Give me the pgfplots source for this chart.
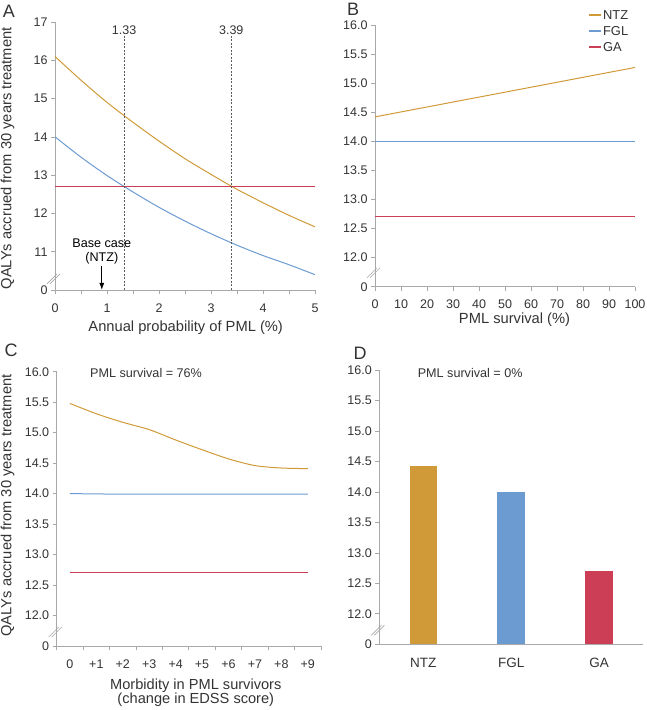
\documentclass[border=0pt]{standalone}
\usepackage{fontspec}
\setmainfont{Liberation Sans}
\usepackage{pgfplots}
\pgfplotsset{compat=1.18}
\usetikzlibrary{arrows.meta}
\definecolor{ntz}{HTML}{D09A38}
\definecolor{fgl}{HTML}{6C9BD2}
\definecolor{ga}{HTML}{CB3E56}
\definecolor{axisgray}{HTML}{A8A8A8}
\definecolor{txt}{HTML}{333333}

\pgfplotsset{
  panel/.style={
    scale only axis, anchor=south west,
    axis x line*=bottom, axis y line*=left,
    axis line style={axisgray, line width=0.7pt},
    every tick/.style={axisgray, line width=0.7pt},
    major tick length=4pt, minor tick length=4pt,
    tick align=outside,
    tick label style={font=\fontsize{12.5}{14}\selectfont, text=txt},
    xticklabel style={yshift=-6pt},
    /pgf/number format/assume math mode=true,
    clip mode=individual,
  },
}
\tikzset{brk/.style={axisgray, line width=0.6pt}}
\newcommand{\brk}[2]{%
  \draw[brk] ([xshift=-8pt,yshift=-5pt]axis cs:#1,#2) -- ++(10pt,10pt);
  \draw[brk] ([xshift=-5pt,yshift=-5pt]axis cs:#1,#2) -- ++(10pt,10pt);}

\begin{document}
\begin{tikzpicture}[x=1pt,y=1pt]
\useasboundingbox (0,0) rectangle (646,710);

% panel A
\begin{axis}[panel, at={(55pt,420pt)}, width=260pt, height=268pt,
  xmin=0, xmax=5, ymin=10, ymax=17,
  xtick={0,...,5}, minor xtick={0.5,1.5,...,4.5},
  ytick={10,11,...,17}, yticklabels={0,11,12,13,14,15,16,17}]
\addplot[ntz, line width=1pt, smooth] coordinates {
  (0,16.10) (0.5,15.48) (1,14.90) (1.5,14.38) (2,13.89) (2.5,13.43)
  (3,13.02) (3.5,12.63) (4,12.28) (4.5,11.95) (5,11.65)};
\addplot[fgl, line width=1pt, smooth] coordinates {
  (0,14.00) (0.5,13.47) (1,12.99) (1.5,12.56) (2,12.16) (2.5,11.80)
  (3,11.47) (3.5,11.17) (4,10.90) (4.5,10.66) (5,10.40)};
\addplot[ga, line width=1pt] coordinates {(0,12.70) (5,12.70)};
\addplot[txt!80, line width=0.6pt, dash pattern=on 2pt off 1.5pt] coordinates {(1.33,10) (1.33,16.66)};
\addplot[txt!80, line width=0.6pt, dash pattern=on 2pt off 1.5pt] coordinates {(3.39,10) (3.39,16.66)};
\node[font=\fontsize{12.5}{14}\selectfont, text=txt] at (axis cs:1.33,16.78) {1.33};
\node[font=\fontsize{12.5}{14}\selectfont, text=txt] at (axis cs:3.39,16.78) {3.39};
\node[font=\fontsize{12.6}{14}\selectfont, align=center, inner sep=0pt] at (axis cs:0.9,11.0) {Base case\\(NTZ)};
\draw[-{Latex[length=7pt,width=5pt]}, line width=1pt] (axis cs:0.9,10.62) -- (axis cs:0.9,10.0);
\brk{0}{10.29}
\end{axis}

% panel B
\begin{axis}[panel, at={(375pt,423.3pt)}, width=260pt, height=261.7pt,
  xmin=0, xmax=100, ymin=11.5, ymax=16,
  xtick={0,10,...,100},
  ytick={11.5,12,12.5,...,16}, yticklabels={0,12.0,12.5,13.0,13.5,14.0,14.5,15.0,15.5,16.0},
  legend style={at={(0.81,1.068)}, anchor=north west, draw=none, fill=none,
    font=\fontsize{12.9}{14}\selectfont, row sep=3.5pt,
    nodes={inner sep=1pt}},
  legend cell align=left,
  legend image code/.code={\draw[#1, line width=1.3pt] (0pt,0.5pt) -- (12pt,0.5pt);}]
\addplot[ntz, line width=1pt] coordinates {(0,14.42) (100,15.27)};
\addlegendentry{\textcolor{txt}{NTZ}}
\addplot[fgl, line width=1pt] coordinates {(0,14.00) (100,14.00)};
\addlegendentry{\textcolor{txt}{FGL}}
\addplot[ga, line width=1pt] coordinates {(0,12.70) (100,12.70)};
\addlegendentry{\textcolor{txt}{GA}}
\brk{0}{11.74}
\end{axis}

% panel C
\begin{axis}[panel, at={(56.7pt,64pt)}, width=264.3pt, height=274.3pt,
  xmin=-0.5, xmax=9.5, ymin=11.5, ymax=16,
  xtick={0,...,9}, xticklabels={0,+1,+2,+3,+4,+5,+6,+7,+8,+9},
  major x tick style={draw=none},
  minor xtick={-0.5,0.5,...,9.5},
  ytick={11.5,12,12.5,...,16}, yticklabels={0,12.0,12.5,13.0,13.5,14.0,14.5,15.0,15.5,16.0}]
\addplot[ntz, line width=1pt, smooth] coordinates {
  (0,15.48) (1,15.31) (2,15.17) (3,15.05) (4,14.88) (5,14.72)
  (6,14.57) (7,14.46) (8,14.42) (9,14.41)};
\addplot[fgl, line width=1pt] coordinates {(0,14.00) (1,13.995) (2,13.99) (9,13.99)};
\addplot[ga, line width=1pt] coordinates {(0,12.70) (9,12.70)};
\node[anchor=west, inner sep=0pt, font=\fontsize{12.6}{14}\selectfont, text=txt] at (axis cs:0.76,15.98) {PML survival = 76\%};
\brk{-0.5}{11.73}
\end{axis}

% panel D
\begin{axis}[panel, at={(379.3pt,65.7pt)}, width=263.7pt, height=274.3pt,
  xmin=-0.5, xmax=2.5, ymin=11.5, ymax=16,
  xtick={0,1,2}, xticklabels={NTZ,FGL,GA},
  major x tick style={draw=none},
  xticklabel style={font=\fontsize{13.5}{15}\selectfont},
  ytick={11.5,12,12.5,...,16}, yticklabels={0,12.0,12.5,13.0,13.5,14.0,14.5,15.0,15.5,16.0},
  ybar, bar width=27.5pt]
\addplot[fill=ntz, draw=none, bar shift=0pt] coordinates {(0,14.42)};
\addplot[fill=fgl, draw=none, bar shift=0pt] coordinates {(1,14.00)};
\addplot[fill=ga, draw=none, bar shift=0pt] coordinates {(2,12.71)};
\node[anchor=west, inner sep=0pt, font=\fontsize{12.6}{14}\selectfont, text=txt] at (axis cs:-0.064,15.95) {PML survival = 0\%};
\brk{-0.5}{11.73}
\end{axis}

% labels
\node[rotate=90, font=\fontsize{14.7}{16}\selectfont, text=txt] at (7.7,551.7) {QALYs accrued from 30 years treatment};
\node[rotate=90, font=\fontsize{14.7}{16}\selectfont, text=txt] at (7.5,204.5) {QALYs accrued from 30 years treatment};
\node[font=\fontsize{14.7}{16}\selectfont, text=txt] at (185.7,382) {Annual probability of PML (\%)};
\node[font=\fontsize{14.7}{16}\selectfont, text=txt] at (514.5,390) {PML survival (\%)};
\node[font=\fontsize{14.6}{14.2}\selectfont, text=txt, align=center] at (195.8,17.5) {Morbidity in PML survivors\\(change in EDSS score)};
\node[font=\fontsize{18}{20}\selectfont, text=txt] at (9,698.5) {A};
\node[font=\fontsize{18}{20}\selectfont, text=txt] at (353,700.5) {B};
\node[font=\fontsize{18}{20}\selectfont, text=txt] at (11,360) {C};
\node[font=\fontsize{18}{20}\selectfont, text=txt] at (360,357) {D};
\end{tikzpicture}
\end{document}
